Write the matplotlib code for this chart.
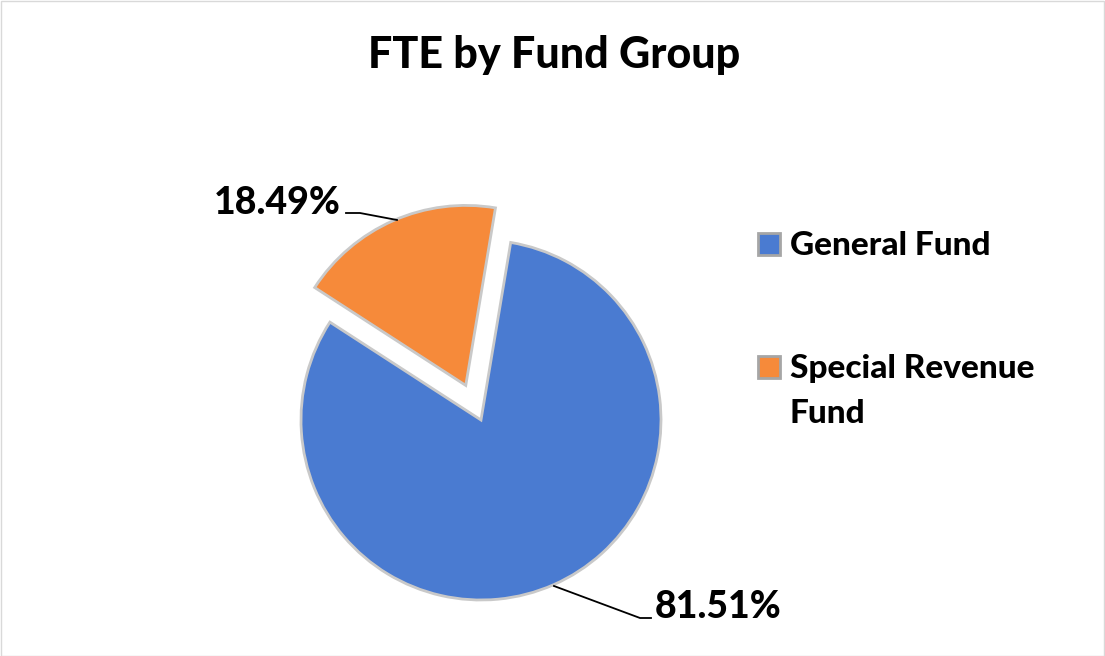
import matplotlib
matplotlib.use("Agg")
import matplotlib.pyplot as plt
from matplotlib.patches import Rectangle
import textwrap

plt.rcParams['font.family'] = ['Lato', 'DejaVu Sans']

title = "FTE by Fund Group"
categories = ["General Fund", "Special Revenue Fund"]
values = [81.51, 18.49]
colors = ["#4A7BD1", "#F68A3A"]
explode = [0.0, 0.21]

W, H = 1105, 656
fig = plt.figure(figsize=(W / 100, H / 100), dpi=100)

# pie axes: center (481,420) px, radius 180 px -> 2.5 units = 450 px
cx, cy, span = 481, 420, 450
ax = fig.add_axes([(cx - span / 2) / W, 1 - (cy + span / 2) / H, span / W, span / H])
wedges, _ = ax.pie(values, colors=colors, explode=explode, startangle=80.5,
                   counterclock=False,
                   wedgeprops=dict(edgecolor="#C9C9C9", linewidth=2.0))
ax.set_xlim(-1.25, 1.25)
ax.set_ylim(-1.25, 1.25)
ax.set_aspect('equal')
ax.axis('off')

def px2data(x, y):
    return ((x - cx) / 180.0, (cy - y) / 180.0)

FW = "black"
lbl_fmt = "{:.2f}%"
# Special Revenue label
p_end = px2data(397, 220)
p_mid = px2data(360, 213)
p_txt = px2data(346, 213)
ax.plot([p_end[0], p_mid[0], p_txt[0]], [p_end[1], p_mid[1], p_txt[1]],
        color="black", lw=1.3, clip_on=False)
ax.text(px2data(341, 0)[0], px2data(0, 203)[1], lbl_fmt.format(values[1]), ha="right", va="center",
        fontsize=27, fontweight=FW, clip_on=False)
# General Fund label
q_end = px2data(554, 586)
q_mid = px2data(640, 618)
q_txt = px2data(651, 618)
ax.plot([q_end[0], q_mid[0], q_txt[0]], [q_end[1], q_mid[1], q_txt[1]],
        color="black", lw=1.3, clip_on=False)
ax.text(px2data(655, 0)[0], px2data(0, 607)[1], lbl_fmt.format(values[0]), ha="left", va="center",
        fontsize=27, fontweight=FW, clip_on=False)

# title
fig.text(554 / W, 1 - 55 / H, title, ha="center", va="center", fontsize=31, fontweight=FW)

# manual legend (baselines in px from top)
leg_base = [255, 378]
line_gap = 45
for w, c, yb in zip(wedges, categories, leg_base):
    fig.patches.append(Rectangle((758 / W, 1 - yb / H), 22 / W, 22 / H,
                                 transform=fig.transFigure, facecolor=w.get_facecolor(),
                                 edgecolor="#A6A6A6", linewidth=2.0))
    for i, line in enumerate(textwrap.fill(c, 16).split("\n")):
        fig.text(790 / W, 1 - (yb + i * line_gap) / H, line, ha="left", va="baseline",
                 fontsize=24, fontweight=FW)

# figure border
fig.patches.append(Rectangle((0.5 / W, 0.5 / H), 1 - 1.5 / W, 1 - 1.5 / H, transform=fig.transFigure,
                             fill=False, edgecolor="#D9D9D9", linewidth=1.0))

fig.savefig("out.png", dpi=100)
